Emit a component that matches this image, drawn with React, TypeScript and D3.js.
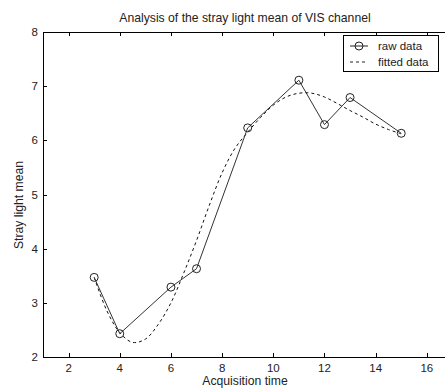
import React, { useEffect, useRef } from "react";
import * as d3 from "d3";

const acqTime = [3, 4, 6, 7, 9, 11, 12, 13, 15];
const rawMean = [3.47, 2.43, 3.29, 3.63, 6.23, 7.11, 6.29, 6.79, 6.13];

const fitTime = [3, 3.5, 4, 4.5, 5, 5.5, 6, 6.5, 7, 7.5, 8, 8.5, 9, 9.5, 10, 10.5, 11, 11.5, 12, 12.5, 13, 13.5, 14, 14.5, 15];
const fitMean = [3.47, 2.85, 2.45, 2.27, 2.33, 2.6, 3.0, 3.55, 4.15, 4.8, 5.4, 5.85, 6.15, 6.42, 6.65, 6.8, 6.87, 6.87, 6.8, 6.68, 6.55, 6.43, 6.3, 6.2, 6.12];

const xTicks = [2, 4, 6, 8, 10, 12, 14, 16];
const yTicks = [2, 3, 4, 5, 6, 7, 8];

const W = 445;
const H = 391;
const font = "'Liberation Sans', Arial, sans-serif";

export default function App() {
  const ref = useRef<SVGSVGElement>(null);

  useEffect(() => {
    const svg = d3.select(ref.current);
    svg.selectAll("*").remove();

    const left = 43, right = 452.4, top = 32, bottom = 357;
    const x = d3.scaleLinear().domain([1, 17]).range([left, right]);
    const y = d3.scaleLinear().domain([2, 8]).range([bottom, top]);

    svg.append("rect").attr("width", W).attr("height", H).attr("fill", "#fff");

    // axes box
    svg.append("rect")
      .attr("x", left + 0.5).attr("y", top + 0.5)
      .attr("width", right - left).attr("height", bottom - top)
      .attr("fill", "none").attr("stroke", "#000");

    // inward ticks
    const tk = 4;
    xTicks.forEach(t => {
      const px = Math.round(x(t)) + 0.5;
      svg.append("line").attr("x1", px).attr("x2", px).attr("y1", bottom).attr("y2", bottom - tk).attr("stroke", "#000");
      svg.append("line").attr("x1", px).attr("x2", px).attr("y1", top).attr("y2", top + tk).attr("stroke", "#000");
      svg.append("text").attr("x", x(t)).attr("y", 372)
        .attr("text-anchor", "middle").attr("font-size", 11.5).attr("font-family", font).attr("fill", "#222")
        .text(t);
    });
    yTicks.forEach(t => {
      const py = Math.round(y(t)) + 0.5;
      svg.append("line").attr("x1", left).attr("x2", left + tk).attr("y1", py).attr("y2", py).attr("stroke", "#000");
      svg.append("text").attr("x", 38).attr("y", y(t) + 4)
        .attr("text-anchor", "end").attr("font-size", 11.5).attr("font-family", font).attr("fill", "#222")
        .text(t);
    });

    // fitted curve
    const fitLine = d3.line<number>()
      .x((d, i) => x(fitTime[i]))
      .y(d => y(d))
      .curve(d3.curveCatmullRom);
    svg.append("path").datum(fitMean)
      .attr("d", fitLine)
      .attr("fill", "none").attr("stroke", "#111").attr("stroke-width", 1)
      .attr("stroke-dasharray", "3,3");

    // raw data
    const rawLine = d3.line<number>()
      .x((d, i) => x(acqTime[i]))
      .y(d => y(d));
    svg.append("path").datum(rawMean)
      .attr("d", rawLine)
      .attr("fill", "none").attr("stroke", "#333").attr("stroke-width", 1);
    svg.selectAll("circle.raw").data(rawMean).enter().append("circle")
      .attr("class", "raw")
      .attr("cx", (d, i) => x(acqTime[i]))
      .attr("cy", d => y(d))
      .attr("r", 4)
      .attr("fill", "none").attr("stroke", "#222");

    // title and labels
    svg.append("text").attr("x", 245).attr("y", 21.5)
      .attr("text-anchor", "middle").attr("font-size", 12.2).attr("font-family", font).attr("fill", "#222")
      .text("Analysis of the stray light mean of VIS channel");
    svg.append("text").attr("x", 245).attr("y", 385)
      .attr("text-anchor", "middle").attr("font-size", 12.2).attr("font-family", font).attr("fill", "#222")
      .text("Acquisition time");
    svg.append("text")
      .attr("transform", "translate(23,205) rotate(-90)")
      .attr("text-anchor", "middle").attr("font-size", 12.2).attr("font-family", font).attr("fill", "#222")
      .text("Stray light mean");

    // legend
    const lg = svg.append("g");
    lg.append("rect").attr("x", 343.5).attr("y", 35.5).attr("width", 95).attr("height", 36)
      .attr("fill", "#fff").attr("stroke", "#000");
    lg.append("line").attr("x1", 350).attr("x2", 368).attr("y1", 46).attr("y2", 46).attr("stroke", "#222");
    lg.append("circle").attr("cx", 359).attr("cy", 46).attr("r", 4).attr("fill", "none").attr("stroke", "#222");
    lg.append("line").attr("x1", 350).attr("x2", 368).attr("y1", 62).attr("y2", 62)
      .attr("stroke", "#222").attr("stroke-dasharray", "3,3");
    lg.append("text").attr("x", 378).attr("y", 50).attr("font-size", 11.5).attr("font-family", font).attr("fill", "#222").text("raw data");
    lg.append("text").attr("x", 378).attr("y", 66).attr("font-size", 11.5).attr("font-family", font).attr("fill", "#222").text("fitted data");
  }, []);

  return (
    <svg ref={ref} width={W} height={H}
      style={{ position: "absolute", left: 0, top: 0, display: "block" }} />
  );
}
